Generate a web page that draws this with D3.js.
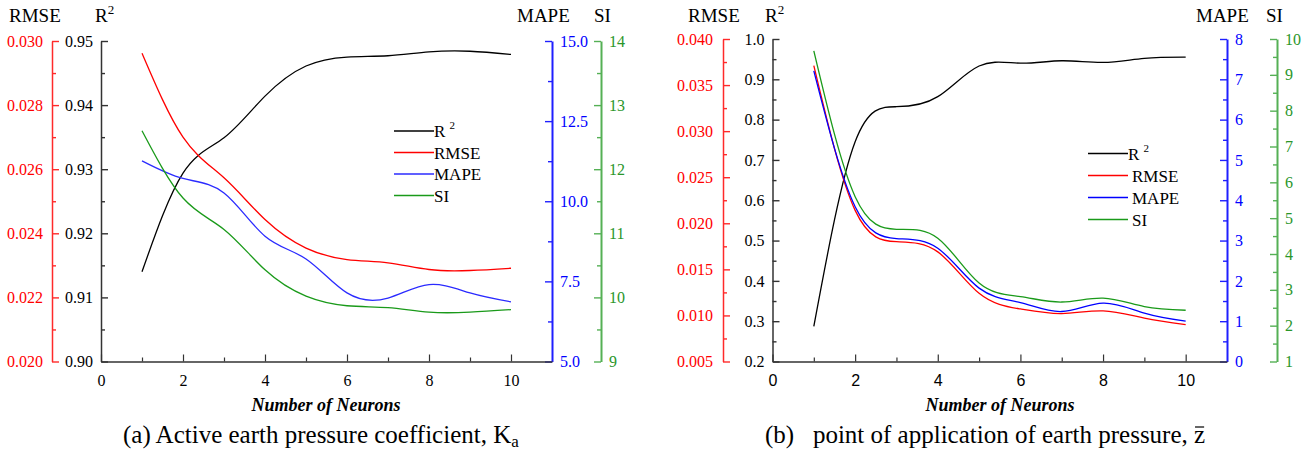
<!DOCTYPE html>
<html><head><meta charset="utf-8">
<script src="https://cdn.jsdelivr.net/npm/d3@7"></script>
<style>
body{margin:0;background:#fff}
svg{display:block}
text{font-family:"Liberation Serif","Times New Roman",serif}
</style>
</head><body><svg id="c" width="1312" height="456"></svg>
<script>
// ---------- data ----------
const neurons = [1, 2, 3, 4, 5, 6, 7, 8, 9, 10];
// (a) Active earth pressure coefficient
const aR2   = [0.9140, 0.9294, 0.9349, 0.9414, 0.9461, 0.9475, 0.9477, 0.9483, 0.9484, 0.9479];
const aRMSE = [0.02962, 0.02700, 0.02573, 0.02443, 0.02354, 0.02318, 0.02308, 0.02287, 0.02284, 0.02291];
const aMAPE = [11.26, 10.71, 10.26, 8.91, 8.20, 7.14, 6.98, 7.40, 7.14, 6.86];
const aSI   = [12.60, 11.55, 11.06, 10.43, 10.02, 9.87, 9.84, 9.77, 9.77, 9.81];
// (b) point of application of earth pressure
const bR2   = [0.287, 0.745, 0.832, 0.857, 0.933, 0.940, 0.946, 0.942, 0.952, 0.955];
const bRMSE = [0.0371, 0.0214, 0.0180, 0.0169, 0.0124, 0.0107, 0.0102, 0.0105, 0.0097, 0.0090];
const bMAPE = [7.21, 3.84, 3.05, 2.81, 1.82, 1.46, 1.24, 1.45, 1.20, 1.00];
const bSI   = [9.67, 5.60, 4.69, 4.44, 3.19, 2.81, 2.66, 2.77, 2.53, 2.43];
// tick labels
const xTicks = [0, 2, 4, 6, 8, 10];
const aR2Ticks   = [0.90, 0.91, 0.92, 0.93, 0.94, 0.95];
const aRMSETicks = [0.020, 0.022, 0.024, 0.026, 0.028, 0.030];
const aMAPETicks = [5.0, 7.5, 10.0, 12.5, 15.0];
const aSITicks   = [9, 10, 11, 12, 13, 14];
const bR2Ticks   = [0.2, 0.3, 0.4, 0.5, 0.6, 0.7, 0.8, 0.9, 1.0];
const bRMSETicks = [0.005, 0.010, 0.015, 0.020, 0.025, 0.030, 0.035, 0.040];
const bMAPETicks = [0, 1, 2, 3, 4, 5, 6, 7, 8];
const bSITicks   = [1, 2, 3, 4, 5, 6, 7, 8, 9, 10];
const seriesNames = ["R2", "RMSE", "MAPE", "SI"];

// ---------- drawing ----------
const svg = d3.select("#c");
const SERIF = '"Liberation Serif","Times New Roman",serif';
const C = {black: "#000", red: "#ff0000", blue: "#0000ff", green: "#1a9a1a",
           axBlack: "#333", axRed: "#ff2a2a", axBlue: "#1f1fff", axGreen: "#55b055", lblGreen: "#2a962a"};

function minorVals(ticks, div) {
  const out = [];
  for (let i = 0; i < ticks.length - 1; i++) {
    const step = (ticks[i + 1] - ticks[i]) / div;
    for (let k = 1; k < div; k++) out.push(ticks[i] + k * step);
  }
  return out;
}

function yAxis(g, o) {
  const y = d3.scaleLinear().domain(o.domain).range(o.range);
  const gen = (o.side === "left" ? d3.axisLeft(y) : d3.axisRight(y));
  const ga = g.append("g").attr("transform", `translate(${o.x},0)`);
  ga.append("g").call((o.side === "left" ? d3.axisLeft(y) : d3.axisRight(y))
      .tickValues(minorVals(o.ticks, o.minorDiv)).tickSize(-4).tickFormat(""))
    .call(s => s.select(".domain").remove())
    .selectAll("line").attr("stroke", o.axColor).attr("stroke-width", 1.4);
  const major = ga.append("g").call(gen.tickValues(o.ticks).tickSize(-7).tickSizeOuter(0)
      .tickPadding(o.pad).tickFormat(o.fmt));
  major.attr("font-size", null).attr("font-family", null);
  major.select(".domain").attr("stroke", o.axColor).attr("stroke-width", o.axWidth || 1.5);
  major.selectAll("line").attr("stroke", o.axColor).attr("stroke-width", 1.4);
  major.selectAll("text").attr("fill", o.lblColor).style("font-size", "16px").style("font-family", SERIF);
  return y;
}

function panel(p) {
  const g = svg.append("g");
  const x = d3.scaleLinear().domain([0, 11]).range([p.x0, p.x1]);
  const yR2 = yAxis(g, {x: p.axBlackX, side: "left", domain: p.r2Dom, range: [p.yB, p.yT], ticks: p.r2Ticks,
    minorDiv: 2, fmt: d3.format(p.r2Fmt), pad: 8, axColor: C.axBlack, lblColor: C.black});
  const yRM = yAxis(g, {x: p.axRedX, side: "left", domain: p.rmDom, range: [p.yB, p.yT], ticks: p.rmTicks,
    minorDiv: 2, fmt: d3.format(".3f"), pad: p.redPad, axColor: C.axRed, lblColor: C.red});
  const yMA = yAxis(g, {x: p.x1, side: "right", domain: p.maDom, range: [p.yB, p.yT], ticks: p.maTicks,
    minorDiv: 2, fmt: d3.format(p.maFmt), pad: 8, axColor: C.axBlue, lblColor: C.blue, axWidth: 2});
  const ySI = yAxis(g, {x: p.axGreenX, side: "right", domain: p.siDom, range: [p.yB, p.yT], ticks: p.siTicks,
    minorDiv: 2, fmt: d3.format("d"), pad: 8, axColor: C.axGreen, lblColor: C.lblGreen, axWidth: 2});

  // x axis
  const gx = g.append("g").attr("transform", `translate(0,${p.yB})`);
  gx.append("g").call(d3.axisBottom(x).tickValues(d3.range(1, 11, 2)).tickSize(-4).tickFormat(""))
    .call(s => s.select(".domain").remove())
    .selectAll("line").attr("stroke", C.axBlack).attr("stroke-width", 1.2);
  const xa = gx.append("g").call(d3.axisBottom(x).tickValues(xTicks).tickSize(-7).tickSizeOuter(0).tickPadding(13));
  xa.attr("font-size", null).attr("font-family", null);
  xa.select(".domain").attr("stroke", C.axBlack).attr("stroke-width", 1.5);
  xa.selectAll("line").attr("stroke", C.axBlack).attr("stroke-width", 1.2);
  xa.selectAll("text").attr("fill", "#000").style("font-size", "16px").style("font-family", p.xFont);

  // curves
  const mk = (ys, arr) => d3.line().x((d, i) => x(neurons[i])).y(d => ys(d)).curve(d3.curveNatural)(arr);
  const series = [
    {ys: yR2, data: p.r2, color: C.black},
    {ys: yRM, data: p.rm, color: C.red},
    {ys: yMA, data: p.ma, color: p.blueLine},
    {ys: ySI, data: p.si, color: C.green}
  ];
  series.forEach(s => g.append("path").attr("d", mk(s.ys, s.data)).attr("fill", "none")
    .attr("stroke", s.color).attr("stroke-width", 1.3));

  // headers
  const hdr = (tx, xx, sup) => {
    const t = g.append("text").attr("x", xx).attr("y", 22).style("font-size", "19px").text(tx);
    if (sup) t.append("tspan").attr("dy", -8).style("font-size", "13px").text("2");
  };
  hdr("RMSE", p.hRMSE); hdr("R", p.hR2, true); hdr("MAPE", p.hMAPE); hdr("SI", p.hSI);

  // legend
  const lc = [C.black, C.red, p.blueLine, C.green];
  seriesNames.forEach((n, i) => {
    const ly = p.legY + i * p.legDy;
    g.append("line").attr("x1", p.legX).attr("x2", p.legX + 40).attr("y1", ly).attr("y2", ly)
      .attr("stroke", lc[i]).attr("stroke-width", 1.3);
    const t = g.append("text").attr("x", p.legX + 40 + (i === 0 ? 0 : p.legGap)).attr("y", ly + 6)
      .style("font-size", "17px");
    if (i === 0) { t.text("R "); t.append("tspan").attr("dy", -8).style("font-size", "11px").text("2"); }
    else t.text(n);
  });

  // x title
  g.append("text").attr("x", p.titleX).attr("y", 411).attr("text-anchor", "middle")
    .style("font-size", "18px").style("font-weight", "bold").style("font-style", "italic")
    .text("Number of Neurons");
  return g;
}

panel({x0: 101, x1: 552, yB: 361.5, yT: 41, axBlackX: 101, axRedX: 52, axGreenX: 601,
  r2Dom: [0.90, 0.95], r2Ticks: aR2Ticks, r2Fmt: ".2f", rmDom: [0.020, 0.030], rmTicks: aRMSETicks, redPad: 9,
  maDom: [5, 15], maTicks: aMAPETicks, maFmt: ".1f", siDom: [9, 14], siTicks: aSITicks,
  r2: aR2, rm: aRMSE, ma: aMAPE, si: aSI, blueLine: "#2b2bff",
  xFont: SERIF,
  hRMSE: 9, hR2: 95, hMAPE: 517, hSI: 594,
  legX: 394, legY: 131, legDy: 21.5, legGap: 0, titleX: 326});

panel({x0: 772.5, x1: 1227, yB: 361.5, yT: 39, axBlackX: 772.5, axRedX: 723, axGreenX: 1277,
  r2Dom: [0.2, 1.0], r2Ticks: bR2Ticks, r2Fmt: ".1f", rmDom: [0.005, 0.040], rmTicks: bRMSETicks, redPad: 10,
  maDom: [0, 8], maTicks: bMAPETicks, maFmt: "d", siDom: [1, 10], siTicks: bSITicks,
  r2: bR2, rm: bRMSE, ma: bMAPE, si: bSI, blueLine: "#0000ff",
  xFont: '"Liberation Sans",Arial,sans-serif',
  hRMSE: 688, hR2: 765, hMAPE: 1196, hSI: 1266,
  legX: 1088, legY: 153.5, legDy: 22, legGap: 4, titleX: 1000});

// captions
const capA = svg.append("text").attr("x", 123).attr("y", 443).style("font-size", "25px")
  .text("(a) Active earth pressure coefficient, K");
capA.append("tspan").attr("dy", 4).style("font-size", "17px").text("a");
const capStr = "(b)\u00a0\u00a0\u00a0point of application of earth pressure, z";
const capB = svg.append("text").attr("x", 765).attr("y", 443).style("font-size", "25px").text(capStr);
const zr = capB.node().getExtentOfChar(capStr.length - 1);
svg.append("line").attr("x1", zr.x + 1).attr("x2", zr.x + zr.width - 1)
  .attr("y1", 443 - 16).attr("y2", 443 - 16).attr("stroke", "#000").attr("stroke-width", 1.2);
</script>
</body></html>
